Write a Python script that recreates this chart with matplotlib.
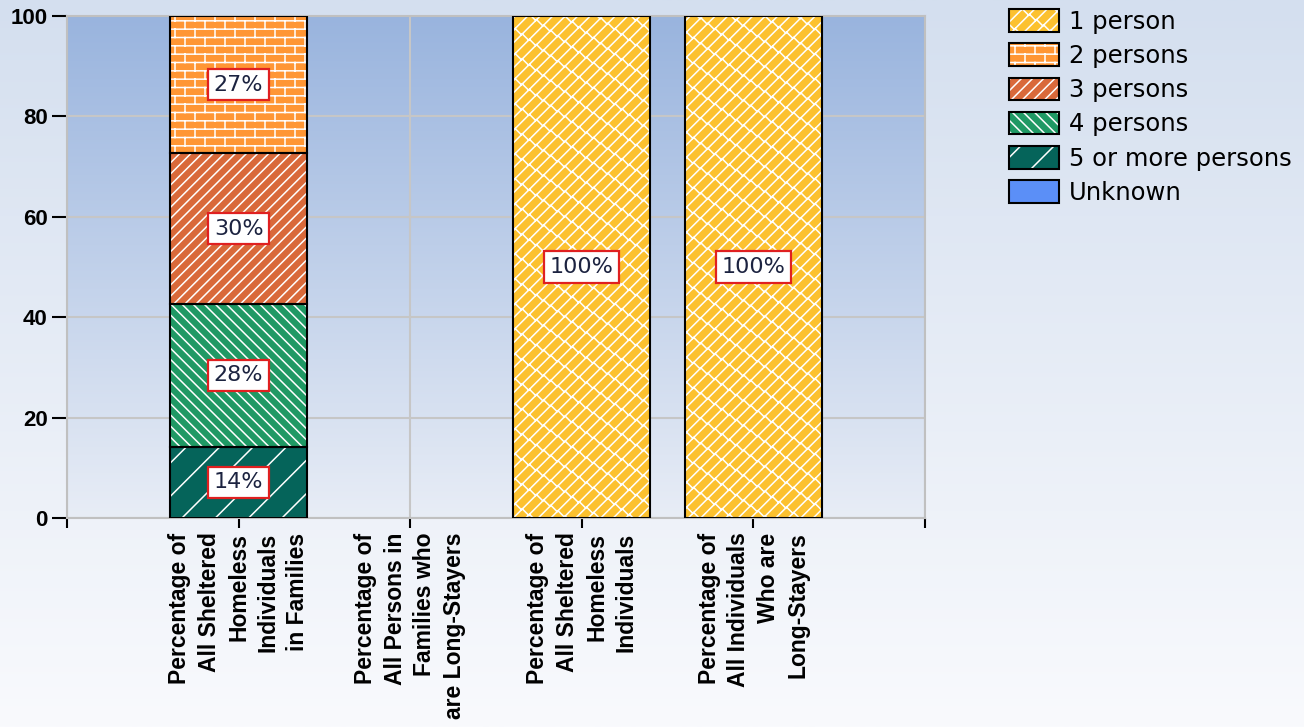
import warnings
import numpy as np
import matplotlib
matplotlib.use("Agg")
import matplotlib.pyplot as plt
import matplotlib.patches as mpatches
from matplotlib import hatch as mhatch
from matplotlib.path import Path
from matplotlib.colors import LinearSegmentedColormap

warnings.filterwarnings("ignore")

categories = [
    "Percentage of\nAll Sheltered\nHomeless\nIndividuals\nin Families",
    "Percentage of\nAll Persons in\nFamilies who\nare Long-Stayers",
    "Percentage of\nAll Sheltered\nHomeless\nIndividuals",
    "Percentage of\nAll Individuals\nWho are\nLong-Stayers",
]
series_names = ["5 or more persons", "4 persons", "3 persons", "2 persons", "1 person", "Unknown"]
five_plus = [14.2, 0, 0, 0]
four_persons = [28.4, 0, 0, 0]
three_persons = [30.1, 0, 0, 0]
two_persons = [27.3, 0, 0, 0]
one_person = [0, 0, 100, 100]
unknown = [0, 0, 0, 0]
yticks = [0, 20, 40, 60, 80, 100]

colors = {
    "1 person": "#fcc12f",
    "2 persons": "#ff9634",
    "3 persons": "#d9693a",
    "4 persons": "#1f9964",
    "5 or more persons": "#05645a",
    "Unknown": "#5b8ff7",
}
hatches = {
    "1 person": "D",
    "2 persons": "B",
    "3 persons": "///",
    "4 persons": "\\\\\\",
    "5 or more persons": "/",
    "Unknown": None,
}


# custom brick hatches (B = brick wall, D = diagonal bricks)
class BrickHatch(mhatch.HatchPatternBase):
    def __init__(self, hatch, density):
        self.rows = 12 if "B" in hatch else 0
        self.cols = 5
        self.num_vertices = self.rows * 2 + (self.rows + 1) * self.cols * 2 if self.rows else 0

    def set_vertices_and_codes(self, vertices, codes):
        v = []
        n, m = self.rows, self.cols
        for i in range(n):
            y = (i + 0.5) / n
            v += [(0, y), (1, y)]
        for i in range(-1, n):
            y0 = (i + 0.5) / n
            for j in range(m):
                x = (j + 0.25 + 0.5 * (i % 2)) / m
                v += [(x, y0), (x, y0 + 1 / n)]
        vertices[:] = v
        codes[0::2] = Path.MOVETO
        codes[1::2] = Path.LINETO


class DiagBrickHatch(mhatch.HatchPatternBase):
    def __init__(self, hatch, density):
        self.n = 8 if "D" in hatch else 0
        self.m = 7
        ks = 2 * self.n + 2
        self.num_vertices = (ks * 2 + ks * (self.m + 3) * 2) if self.n else 0

    def set_vertices_and_codes(self, vertices, codes):
        v = []
        n, m = self.n, self.m
        for k in range(-n - 1, n + 1):
            c = (k + 0.5) / n
            v += [(-0.5, -0.5 + c), (1.5, 1.5 + c)]
        for k in range(-n - 1, n + 1):
            c = (k + 0.5) / n
            for j in range(-1, m + 2):
                t = (j + 0.5 * (k % 2)) / m
                v += [(t, t + c), (t - 0.5 / n, t + c + 0.5 / n)]
        vertices[:] = v
        codes[0::2] = Path.MOVETO
        codes[1::2] = Path.LINETO


mhatch._hatch_types.append(BrickHatch)
mhatch._hatch_types.append(DiagBrickHatch)

plt.rcParams["hatch.linewidth"] = 1.1
plt.rcParams["font.family"] = ["DejaVu Sans"]

fig = plt.figure(figsize=(13.04, 7.27), dpi=100)

# figure background gradient
bg = fig.add_axes([0, 0, 1, 1], zorder=-1)
bg_cmap = LinearSegmentedColormap.from_list("bg", ["#d4dfef", "#f9fafd"])
bg.imshow(np.linspace(0, 1, 256).reshape(-1, 1), cmap=bg_cmap, aspect="auto", extent=(0, 1, 0, 1))
bg.axis("off")

ax = fig.add_axes([67 / 1304, 1 - 518 / 727, (925 - 67) / 1304, (518 - 16) / 727])
ax.set_facecolor("none")
plot_cmap = LinearSegmentedColormap.from_list("pl", ["#99b4de", "#e8edf6"])
ax.imshow(np.linspace(0, 1, 256).reshape(-1, 1), cmap=plot_cmap, aspect="auto",
          extent=(-1, 4, 0, 100), zorder=0)

x = np.arange(len(categories))
data = {
    "5 or more persons": five_plus,
    "4 persons": four_persons,
    "3 persons": three_persons,
    "2 persons": two_persons,
    "1 person": one_person,
    "Unknown": unknown,
}
bottom = np.zeros(len(categories))
for name in series_names:
    vals = np.array(data[name], dtype=float)
    mask = vals > 0
    if mask.any():
        ax.bar(x[mask], vals[mask], 0.8, bottom=bottom[mask], color=colors[name],
               hatch=hatches[name], edgecolor="white", linewidth=0, zorder=2)
        ax.bar(x[mask], vals[mask], 0.8, bottom=bottom[mask], fill=False,
               edgecolor="black", linewidth=1.5, zorder=3)
        for xi, b, v in zip(x[mask], bottom[mask], vals[mask]):
            ax.text(xi, b + v / 2, f"{v:.0f}%", ha="center", va="center", fontsize=16,
                    color="#1c2340", zorder=4,
                    bbox=dict(boxstyle="square,pad=0.25", fc="white", ec="#e02020", lw=1.6))
    bottom += vals

ax.set_xlim(-1, 4)
ax.set_ylim(0, 100)
ax.set_yticks(yticks)
ax.set_xticks(np.arange(-1, 5))
ax.set_xticklabels([""] + categories + [""], rotation=90, ha="center", va="top",
                   multialignment="right", fontsize=16.5, fontweight="bold",
                   family=["Liberation Sans", "DejaVu Sans"], linespacing=1.36)
ax.tick_params(axis="y", labelsize=16, length=11, width=1.5, pad=3)
ax.tick_params(axis="x", length=7.5, width=1.5, pad=3)
for lbl in ax.get_yticklabels():
    lbl.set_fontweight("bold")
    lbl.set_family(["Liberation Sans", "DejaVu Sans"])
ax.grid(which="major", color="#c6c6c6", linewidth=1.5)
for sp in ax.spines.values():
    sp.set_color("#c0c0c0")
    sp.set_linewidth(1.5)

# legend with black outlined, white hatched boxes
handles = []
for name in ["1 person", "2 persons", "3 persons", "4 persons", "5 or more persons", "Unknown"]:
    fillp = mpatches.Patch(facecolor=colors[name], hatch=hatches[name], edgecolor="white", linewidth=0)
    edgep = mpatches.Patch(fill=False, edgecolor="black", linewidth=1.5)
    handles.append((fillp, edgep))
labels = ["1 person", "2 persons", "3 persons", "4 persons", "5 or more persons", "Unknown"]
fig.legend(handles, labels, loc="upper left", bbox_to_anchor=(1009 / 1304, 1 - 9 / 727),
           frameon=False, fontsize=17.5, handlelength=2.05, handleheight=1.05,
           handletextpad=0.4, labelspacing=0.4, borderpad=0, borderaxespad=0)

plt.savefig("out.png", dpi=100)
